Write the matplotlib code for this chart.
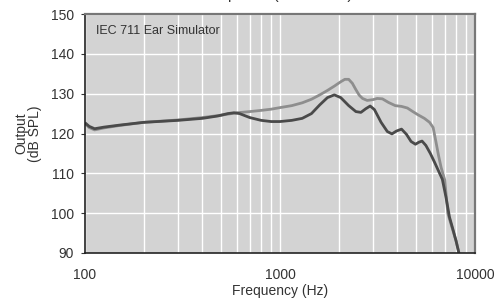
import matplotlib
matplotlib.use("Agg")
import matplotlib.pyplot as plt
from matplotlib.ticker import FixedLocator, NullFormatter

plt.rcParams['font.family'] = ['Liberation Sans', 'DejaVu Sans']

title = "Response (Free Field)"
annotation = "IEC 711 Ear Simulator"
xlabel = "Frequency (Hz)"
ylabel = "Output\n(dB SPL)"

x_ticks = [100, 1000, 10000]
x_tick_labels = ["100", "1000", "10000"]
y_ticks = [90, 100, 110, 120, 130, 140, 150]

dark_freq = [100, 105, 112, 125, 150, 200, 300, 400, 480, 540, 580, 620, 700, 800,
             900, 1000, 1150, 1300, 1450, 1600, 1750, 1900, 2050, 2250, 2450, 2600,
             2750, 2900, 3050, 3300, 3550, 3750, 3950, 4200, 4450, 4700, 4950, 5150,
             5350, 5600, 5900, 6200, 6500, 6800, 7100, 7400, 7700, 8000, 8270]
dark_db = [122.7, 121.8, 121.2, 121.6, 122.1, 122.8, 123.3, 123.8, 124.4, 125.0, 125.2,
           125.0, 124.0, 123.3, 123.0, 123.0, 123.3, 123.8, 125.0, 127.2, 129.0, 129.7,
           129.0, 127.0, 125.5, 125.3, 126.2, 126.9, 126.0, 122.8, 120.5, 119.9, 120.6,
           121.1, 119.8, 118.0, 117.3, 117.8, 118.1, 117.0, 115.0, 112.8, 110.6, 108.5,
           104.0, 99.0, 96.0, 93.0, 90.0]

light_freq = [100, 105, 112, 125, 150, 200, 300, 400, 500, 600, 700, 800, 900, 1000,
              1150, 1300, 1450, 1600, 1750, 1900, 2050, 2150, 2250, 2350, 2450, 2550,
              2650, 2800, 3000, 3150, 3350, 3600, 3900, 4200, 4500, 4800, 5100, 5500,
              5850, 6100, 6300, 6500, 6700, 7000, 7250, 7600, 8000, 8270]
light_db = [122.5, 121.5, 120.9, 121.4, 122.0, 122.8, 123.4, 124.0, 124.6, 125.2, 125.5,
            125.8, 126.1, 126.5, 127.0, 127.7, 128.6, 129.7, 130.8, 131.9, 133.0, 133.6,
            133.6, 132.6, 131.0, 129.6, 128.8, 128.3, 128.5, 128.8, 128.7, 127.8, 127.0,
            126.8, 126.4, 125.5, 124.7, 123.8, 122.8, 121.5, 118.0, 114.5, 111.5, 108.3,
            100.0, 96.6, 93.0, 90.0]

fig = plt.figure(figsize=(4.97, 2.98), dpi=100)
ax = fig.add_axes([85/497, 1 - 253/298, 390/497, 239/298])
ax.set_facecolor('#d3d3d3')

ax.plot(light_freq, light_db, color='#8e8e8e', lw=2.0, solid_capstyle='butt')
ax.plot(dark_freq, dark_db, color='#4a4a4a', lw=2.0, solid_capstyle='butt')

ax.set_xscale('log')
ax.set_xlim(100, 10000)
ax.set_ylim(90, 150)
ax.xaxis.set_major_locator(FixedLocator(x_ticks))
ax.set_xticklabels(x_tick_labels)
ax.xaxis.set_minor_locator(FixedLocator([m * d for d in (100, 1000) for m in range(2, 10)]))
ax.xaxis.set_minor_formatter(NullFormatter())
ax.set_yticks(y_ticks)

ax.grid(True, which='both', axis='x', color='white', lw=1.0)
ax.grid(True, which='major', axis='y', color='white', lw=1.0)
ax.set_axisbelow(True)

ax.tick_params(axis='x', which='both', length=0, pad=11, labelsize=10, labelcolor='#333333')
ax.tick_params(axis='y', length=3, width=0.8, color='#333333', pad=5, labelsize=10,
               labelcolor='#333333')

for side in ('left', 'bottom'):
    ax.spines[side].set_color('#222222')
    ax.spines[side].set_linewidth(1.2)
for side in ('top', 'right'):
    ax.spines[side].set_color('#777777')
    ax.spines[side].set_linewidth(1.6)

ax.text(0.028, 0.955, annotation, transform=ax.transAxes, ha='left', va='top',
        fontsize=9, color='#333333')
ax.set_xlabel(xlabel, fontsize=10, color='#333333', labelpad=1)
ax.set_ylabel(ylabel, fontsize=10, color='#333333', labelpad=6, linespacing=1.0)

# Title sits above the figure edge in the reference: only its descenders show.
fig.text(0.557, 1 + 0.5/298, title, ha='center', va='baseline', fontsize=11,
         color='#333333')

fig.savefig('out.png', dpi=100)
